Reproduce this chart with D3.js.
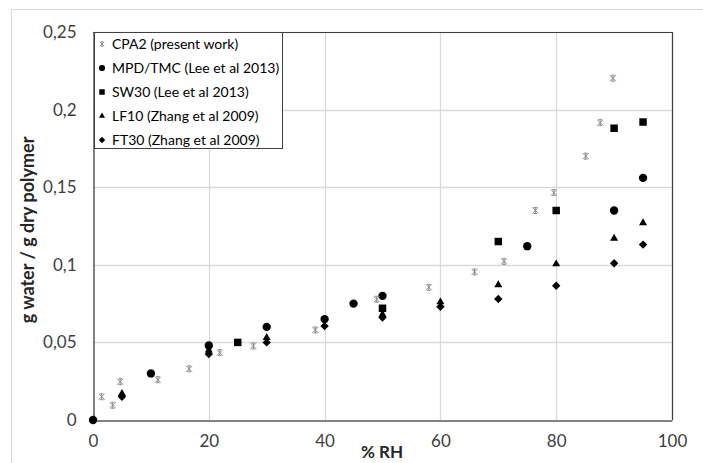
<!DOCTYPE html>
<html><head><meta charset="utf-8">
<script src="https://cdn.jsdelivr.net/npm/d3@7"></script>
<style>body{margin:0;background:#fff;}svg{display:block;}</style>
</head><body>
<svg id="c" width="703" height="463"></svg>
<script>
const xTicks = [0, 20, 40, 60, 80, 100];
const yTicks = [0, 0.05, 0.1, 0.15, 0.2, 0.25];
const yTickLabels = ["0", "0,05", "0,1", "0,15", "0,2", "0,25"];
const seriesNames = ["CPA2 (present work)", "MPD/TMC (Lee et al 2013)", "SW30 (Lee et al 2013)", "LF10 (Zhang et al 2009)", "FT30 (Zhang et al 2009)"];

const cpa2X = [1.5, 3.4, 4.7, 11.2, 16.6, 21.9, 27.7, 38.4, 49, 58, 65.9, 71, 76.4, 79.6, 85.1, 87.6, 89.8];
const cpa2Y = [0.015, 0.0095, 0.0247, 0.026, 0.033, 0.0434, 0.0477, 0.058, 0.0778, 0.0855, 0.0954, 0.1022, 0.135, 0.1465, 0.170, 0.1916, 0.2202];
const mpdX = [0, 10, 20, 30, 40, 45, 50, 75, 90, 95];
const mpdY = [0, 0.030, 0.048, 0.060, 0.065, 0.075, 0.080, 0.112, 0.135, 0.156];
const sw30X = [25, 50, 70, 80, 90, 95];
const sw30Y = [0.050, 0.072, 0.115, 0.135, 0.188, 0.192];
const lf10X = [5, 20, 30, 50, 60, 70, 80, 90, 95];
const lf10Y = [0.017, 0.045, 0.053, 0.068, 0.076, 0.087, 0.1005, 0.117, 0.127];
const ft30X = [5, 20, 30, 40, 50, 60, 70, 80, 90, 95];
const ft30Y = [0.015, 0.0425, 0.050, 0.0605, 0.066, 0.073, 0.078, 0.0865, 0.101, 0.113];

const FONT = "Lato, 'Open Sans', sans-serif";
const svg = d3.select("#c");
const L = 93, R = 672, T = 32, B = 420;
const x = d3.scaleLinear().domain([0, 100]).range([L, R]);
const y = d3.scaleLinear().domain([0, 0.25]).range([B, T]);

// outer chart border
svg.append("rect").attr("x", 11.5).attr("y", 9.5).attr("width", 720).attr("height", 480)
  .attr("fill", "none").attr("stroke", "#d9d9d9");

// gridlines
const g = svg.append("g");
g.selectAll(".hg").data(yTicks.slice(1)).join("line")
  .attr("x1", L).attr("x2", R).attr("y1", d => Math.round(y(d)) + 0.5).attr("y2", d => Math.round(y(d)) + 0.5)
  .attr("stroke", "#d9d9d9").attr("stroke-width", 1.3);
g.selectAll(".vg").data(xTicks.slice(1)).join("line")
  .attr("y1", T).attr("y2", B).attr("x1", d => Math.round(x(d)) + 0.5).attr("x2", d => Math.round(x(d)) + 0.5)
  .attr("stroke", "#d9d9d9").attr("stroke-width", 1.3);

// plot frame (top/right)
svg.append("path").attr("d", `M${L},${T + 0.5}H${R + 0.5}V${B}`).attr("fill", "none").attr("stroke", "#404040").attr("stroke-width", 1.2);

// axes
const xAxis = d3.axisBottom(x).tickValues(xTicks).tickSize(0).tickPadding(14);
const yAxis = d3.axisLeft(y).tickValues(yTicks).tickSize(0).tickPadding(17).tickFormat((d, i) => yTickLabels[i]);
const gx = svg.append("g").attr("transform", `translate(0,${B + 0.5})`).call(xAxis);
const gy = svg.append("g").attr("transform", `translate(${L + 0.5},0)`).call(yAxis);
[gx, gy].forEach(a => {
  a.select(".domain").attr("stroke", "#595959").attr("stroke-width", 1.5);
  a.selectAll("text").attr("font-family", FONT).attr("font-size", 17).attr("fill", "#404040");
});

// axis titles
svg.append("text").attr("x", 382).attr("y", 458).attr("text-anchor", "middle")
  .attr("font-family", FONT).attr("font-size", 17).attr("font-weight", "bold").attr("fill", "#262626").text("% RH");
svg.append("text").attr("transform", "translate(34,230) rotate(-90)").attr("text-anchor", "middle")
  .attr("font-family", FONT).attr("font-size", 18).attr("font-weight", "bold").attr("fill", "#262626").text("g water / g dry polymer");

// markers
function starPath(s) {
  return `M${-s},${-s}L${s},${s}M${-s},${s}L${s},${-s}M0,${-s}V${s}M${-s * 0.6},${-s}H${s * 0.6}M${-s * 0.6},${s}H${s * 0.6}`;
}
function diamondPath(r) {
  return `M0,${-r}L${r},0L0,${r}L${-r},0Z`;
}
const pts = svg.append("g");
function drawSym(xs, ys, pathStr) {
  pts.selectAll(null).data(xs.map((v, i) => [v, ys[i]])).join("path")
    .attr("transform", d => `translate(${x(d[0])},${y(d[1])})`)
    .attr("d", pathStr).attr("fill", "#000");
}
drawSym(sw30X, sw30Y, d3.symbol().type(d3.symbolSquare).size(56)());
drawSym(mpdX, mpdY, d3.symbol().type(d3.symbolCircle).size(55)());
drawSym(lf10X, lf10Y, d3.symbol().type(d3.symbolTriangle).size(28)());
drawSym(ft30X, ft30Y, diamondPath(4.2));
pts.selectAll(null).data(cpa2X.map((v, i) => [v, cpa2Y[i]])).join("path")
  .attr("transform", d => `translate(${x(d[0])},${y(d[1])})`)
  .attr("d", starPath(3)).attr("fill", "none").attr("stroke", "#808080").attr("stroke-width", 0.9);

// legend
const lg = svg.append("g");
lg.append("rect").attr("x", 94.5).attr("y", 32.5).attr("width", 188).attr("height", 116)
  .attr("fill", "#fff").attr("stroke", "#404040");
const legY = [44, 68, 92, 116, 140];
const legPaths = [null,
  d3.symbol().type(d3.symbolCircle).size(30)(),
  d3.symbol().type(d3.symbolSquare).size(30)(),
  d3.symbol().type(d3.symbolTriangle).size(16)(),
  diamondPath(3.2)];
seriesNames.forEach((n, i) => {
  if (i === 0) {
    lg.append("path").attr("transform", `translate(102,${legY[i]})`).attr("d", starPath(2.2))
      .attr("fill", "none").attr("stroke", "#808080").attr("stroke-width", 0.8);
  } else {
    lg.append("path").attr("transform", `translate(102,${legY[i]})`).attr("d", legPaths[i]).attr("fill", "#000");
  }
  lg.append("text").attr("x", 112).attr("y", legY[i]).attr("dy", "0.35em")
    .attr("font-family", FONT).attr("font-size", 14).attr("fill", "#000").text(n);
});
</script>
</body></html>
